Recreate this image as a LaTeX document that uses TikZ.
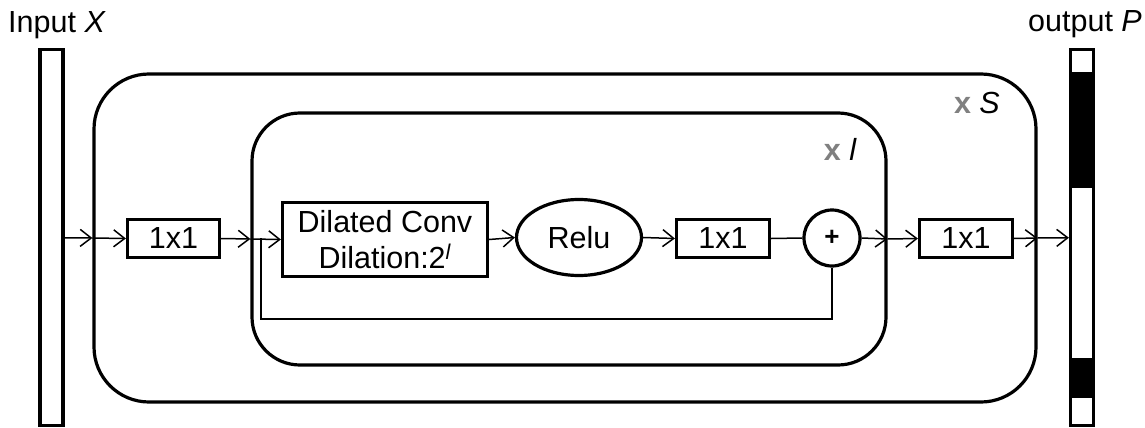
\documentclass[tikz,border=0pt]{standalone}
\usepackage{fontspec}
\setmainfont{Liberation Sans}
\usetikzlibrary{arrows.meta, shapes.geometric}

\begin{document}
\begin{tikzpicture}[x=1pt, y=-1pt, line join=miter,
    every node/.style={font=\fontsize{30.5}{36}\selectfont, inner sep=0pt},
    box/.style={draw, line width=3.2pt, minimum height=38pt},
    frame/.style={draw, line width=3.2pt},
    bar/.style={draw, line width=3.2pt, minimum width=23pt, minimum height=376pt},
    arr/.style={line width=1.5pt, -{Straight Barb[length=11pt, width=17pt, line width=1.5pt]}},
    conn/.style={line width=1.5pt}]
    % Page
    \useasboundingbox (0,0) rectangle (1145,428);
    % Frames for the two loops
    \node[frame, rounded corners=55pt, minimum width=942pt, minimum height=328pt] (stackS) at (565,238) {};
    \node[frame, rounded corners=48pt, minimum width=634pt, minimum height=252pt] (blockL) at (569,239) {};
    \node[anchor=base east] (repS) at (1000,113) {\textcolor{gray}{\textbf{x}} \textit{S}};
    \node[anchor=base east] (repL) at (857,160) {\textcolor{gray}{\textbf{x}} \textit{l}};

    % Input and output bars
    \node[bar] (inX) at (51.5,237.75) {};
    \node[anchor=base west] (inLabel) at (8,33) {Input \textit{X}};
    \fill (1069,72) rectangle (1095,188);
    \fill (1069,358) rectangle (1095,398);
    \node[bar] (outP) at (1082,237.75) {};
    \node[anchor=base east] (outLabel) at (1142,32) {output \textit{P}};

    % Blocks
    \node[box, minimum width=92pt] (convA) at (173.5,238.5) {1x1};
    \node[box, minimum width=205pt, minimum height=74pt, align=center] (dil) at (385,239.5)
        {Dilated Conv\\Dilation:2\textsuperscript{\textit{l}}};
    \node[frame, ellipse, minimum width=125pt, minimum height=76pt] (relu) at (579,237.5) {Relu};
    \node[box, minimum width=93pt] (convB) at (723,238.5) {1x1};
    \node[frame, circle, minimum size=56pt, font=\fontsize{26}{26}\selectfont] (add) at (832,238) {\textbf{+}};
    \node[box, minimum width=93pt] (convC) at (966,238.5) {1x1};

    % Connectors
    \coordinate (skip) at (261,238);
    \draw[arr] (inX.east) -- (stackS.west);
    \draw[arr] (stackS.west) -- (convA.west);
    \draw[arr] (convA.east) -- (blockL.west);
    \draw[arr] (blockL.west) -- (dil.west);
    \draw[arr] (dil.east) -- (relu.west);
    \draw[arr] (relu.east) -- (convB.west);
    \draw[conn] (convB.east) -- (add.west);
    \draw[conn] (skip) -- ++(0,81) -| (add.south);
    \draw[arr] (add.east) -- (blockL.east);
    \draw[arr] (blockL.east) -- (convC.west);
    \draw[arr] (convC.east) -- (stackS.east);
    \draw[arr] (stackS.east) -- (outP.west);
\end{tikzpicture}
\end{document}
